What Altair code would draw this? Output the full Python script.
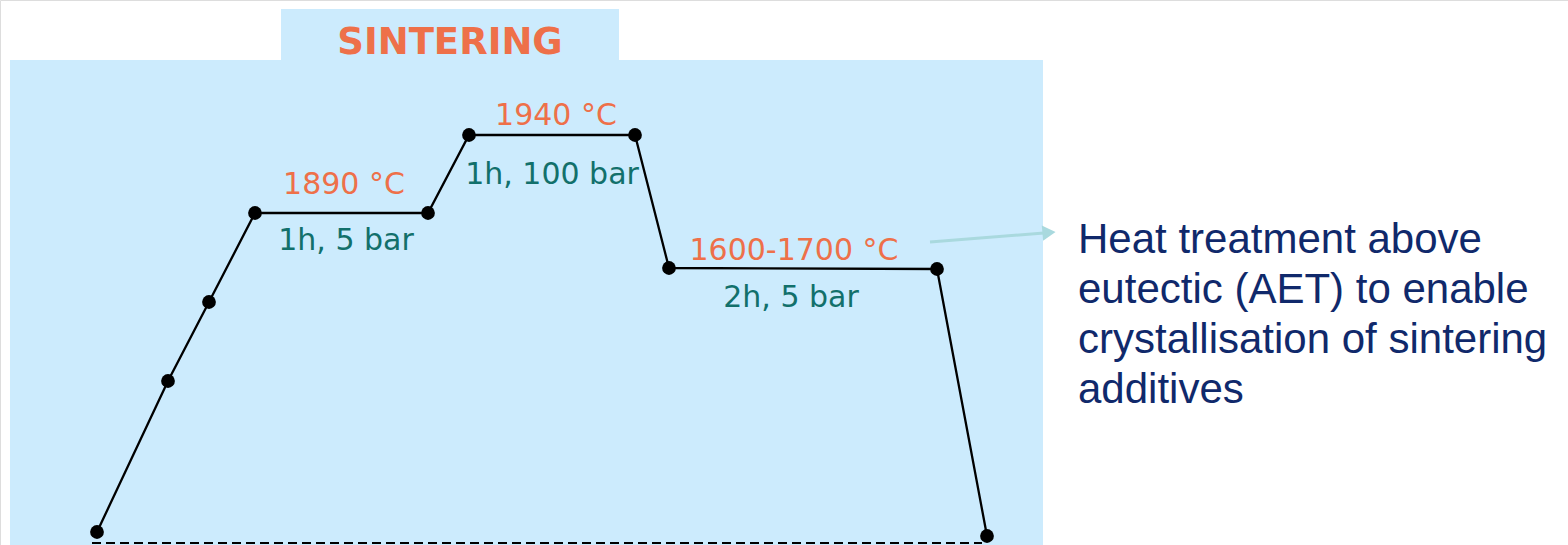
import altair as alt
import pandas as pd

# Schematic sintering profile, values in chart units (x: time axis, y: height from top)
step_x = [97, 168, 209, 255, 428, 469, 635, 669, 937, 987]
step_y = [532, 381, 302, 213, 213, 135, 135, 268, 269, 536]

label_text = ["1890 \u00b0C", "1h, 5 bar", "1940 \u00b0C", "1h, 100 bar", "1600-1700 \u00b0C", "2h, 5 bar"]
label_kind = ["temp", "cond", "temp", "cond", "temp", "cond"]
label_x = [344, 346, 556, 552, 794, 791]
label_y = [185, 241, 116, 175, 251, 298]

region_x = [10, 281]
region_x2 = [1043, 619]
region_y = [60, 9]
region_y2 = [545, 60]

title_text = ["SINTERING"]
note_text = ["Heat treatment above\neutectic (AET) to enable\ncrystallisation of sintering\nadditives"]

W, H = 1568, 545
xs = alt.Scale(domain=[0, W], nice=False, zero=False)
ys = alt.Scale(domain=[0, H], nice=False, zero=False, reverse=True)

pts = pd.DataFrame({"x": step_x, "y": step_y, "i": list(range(len(step_x)))})
labels = pd.DataFrame({"text": label_text, "kind": label_kind, "x": label_x, "y": label_y})
regions = pd.DataFrame({"x": region_x, "x2": region_x2, "y": region_y, "y2": region_y2})
base_df = pd.DataFrame({"x": [92], "x2": [982], "y": [543]})
arrow_df = pd.DataFrame({"x": [930], "x2": [1044], "y": [242], "y2": [233]})
head_df = pd.DataFrame({"x": [1049], "y": [232.5]})
title_df = pd.DataFrame({"text": title_text, "x": [450], "y": [43]})
note_df = pd.DataFrame({"text": note_text, "x": [1078], "y": [240]})

X = lambda f="x": alt.X(f"{f}:Q", scale=xs, axis=None)
Y = lambda f="y": alt.Y(f"{f}:Q", scale=ys, axis=None)

bg = alt.Chart(regions).mark_rect(color="#CCEBFD").encode(
    x=X(), x2="x2:Q", y=Y(), y2="y2:Q")

baseline = alt.Chart(base_df).mark_rule(color="black", strokeWidth=2, strokeDash=[9, 5]).encode(
    x=X(), x2="x2:Q", y=Y())

line = alt.Chart(pts).mark_line(color="black", strokeWidth=2.3).encode(
    x=X(), y=Y(), order="i:Q")

dots = alt.Chart(pts).mark_point(filled=True, color="black", size=190, opacity=1, shape="circle").encode(
    x=X(), y=Y())

lab = alt.Chart(labels).mark_text(font="DejaVu Sans", fontSize=30, baseline="middle", align="center").encode(
    x=X(), y=Y(), text="text:N",
    color=alt.Color("kind:N", scale=alt.Scale(domain=["temp", "cond"], range=["#EE7049", "#12706B"]), legend=None))

title = alt.Chart(title_df).mark_text(font="DejaVu Sans", fontWeight="bold", fontSize=37,
                                      color="#EE7049", baseline="middle", align="center").encode(
    x=X(), y=Y(), text="text:N")

arrow = alt.Chart(arrow_df).mark_rule(color="#A9D9DE", strokeWidth=3).encode(
    x=X(), x2="x2:Q", y=Y(), y2="y2:Q")

head = alt.Chart(head_df).mark_point(shape="triangle-right", filled=True, color="#A9D9DE",
                                     size=230, opacity=1, angle=355).encode(x=X(), y=Y())

note = alt.Chart(note_df).mark_text(font="Liberation Sans", fontSize=42, color="#10296B",
                                    align="left", baseline="middle", lineBreak="\n", lineHeight=50).encode(
    x=X(), y=Y(), text="text:N")

chart = alt.layer(bg, baseline, line, dots, lab, title, arrow, head, note).properties(
    width=W, height=H, autosize=alt.AutoSizeParams(type="none"), padding=0
).configure_view(stroke=None).configure(background="white")

chart.save("out.html", embed_options={"renderer": "svg", "actions": False})
